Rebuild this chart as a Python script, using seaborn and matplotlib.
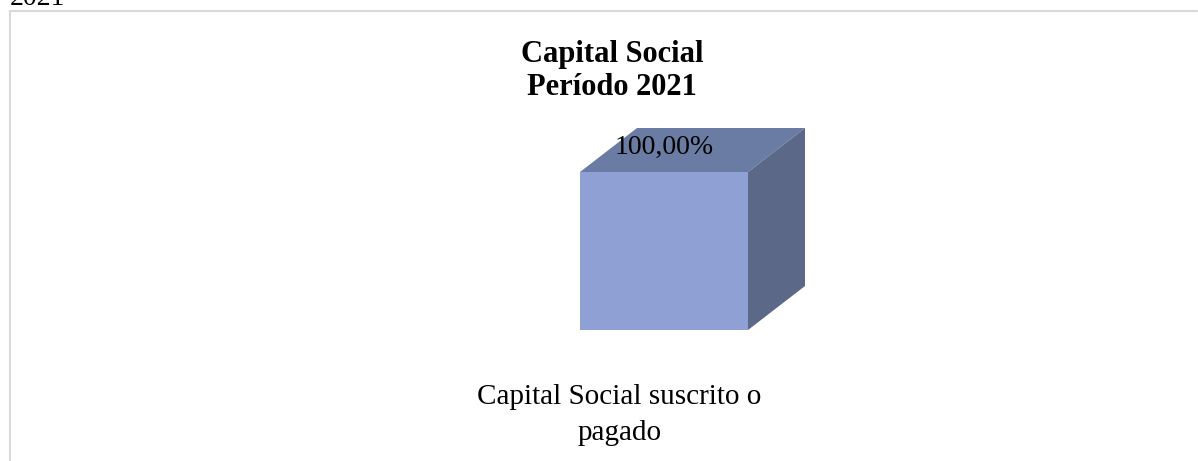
import matplotlib
matplotlib.use("Agg")
import matplotlib.pyplot as plt
from matplotlib.patches import Polygon
from matplotlib.lines import Line2D
import seaborn as sns

categorias = ["Capital Social suscrito o\npagado"]
porcentajes = [100.0]
etiquetas = ["100,00%"]
titulo = "Capital Social\nPeríodo 2021"

sns.set_theme(style="white")
plt.rcParams["font.family"] = ["Liberation Serif", "DejaVu Serif"]

frente = "#8FA1D4"
arriba = "#6A7CA3"
lado = "#5B6888"

W, H = 1198, 461
fig = plt.figure(figsize=(W / 100, H / 100), dpi=100)
ax = fig.add_axes([454 / W, 131 / H, 420 / W, 202 / H])

sns.barplot(x=categorias, y=porcentajes, ax=ax, color=frente, width=0.8,
            saturation=1, linewidth=0)

# profundidad del efecto 3D (en unidades de datos)
dx = 57 / 210
dy = 44 / 158 * 100
for bar in ax.patches[:]:
    x0, w, h = bar.get_x(), bar.get_width(), bar.get_height()
    bar.set_facecolor(frente)
    ax.add_patch(Polygon([(x0, h), (x0 + w, h), (x0 + w + dx, h + dy), (x0 + dx, h + dy)],
                         closed=True, facecolor=arriba, edgecolor="none"))
    ax.add_patch(Polygon([(x0 + w, 0), (x0 + w + dx, dy), (x0 + w + dx, h + dy), (x0 + w, h)],
                         closed=True, facecolor=lado, edgecolor="none"))

for bar, et in zip(ax.patches, etiquetas):
    ax.annotate(et, xy=(bar.get_x() + bar.get_width() / 2, bar.get_height()),
                xytext=(0, 13), textcoords="offset points", ha="center", va="baseline",
                fontsize=20, color="black")

ax.set_xlim(-1, 1)
ax.set_ylim(0, 100 + dy)
ax.set_xticks([])
ax.set_yticks([])
ax.set_xlabel("")
ax.set_ylabel("")
sns.despine(ax=ax, left=True, bottom=True)
ax.patch.set_visible(False)

for i, cat in enumerate(categorias):
    ax.annotate(cat, xy=(i, 0), xycoords=("data", "axes fraction"),
                xytext=(-32, -39), textcoords="offset points", ha="center", va="top",
                fontsize=21, linespacing=1.5, color="black")

fig.text(612 / W, 1 - 40 / H, titulo, ha="center", va="top", fontsize=22,
         fontweight="bold", linespacing=1.18, color="black")

# texto cortado arriba a la izquierda
fig.text(10 / W, 1 - 5 / H, "2021", ha="left", va="baseline", fontsize=20, color="black")

# marco del área del gráfico
fig.add_artist(Line2D([9.5 / W, 9.5 / W], [0, 1 - 11.5 / H], transform=fig.transFigure,
                      color="#d9d9d9", lw=1.5))
fig.add_artist(Line2D([9.5 / W, 1197 / W], [1 - 11.5 / H, 1 - 11.5 / H], transform=fig.transFigure,
                      color="#d9d9d9", lw=1.5))

fig.savefig("out.png", dpi=100)
